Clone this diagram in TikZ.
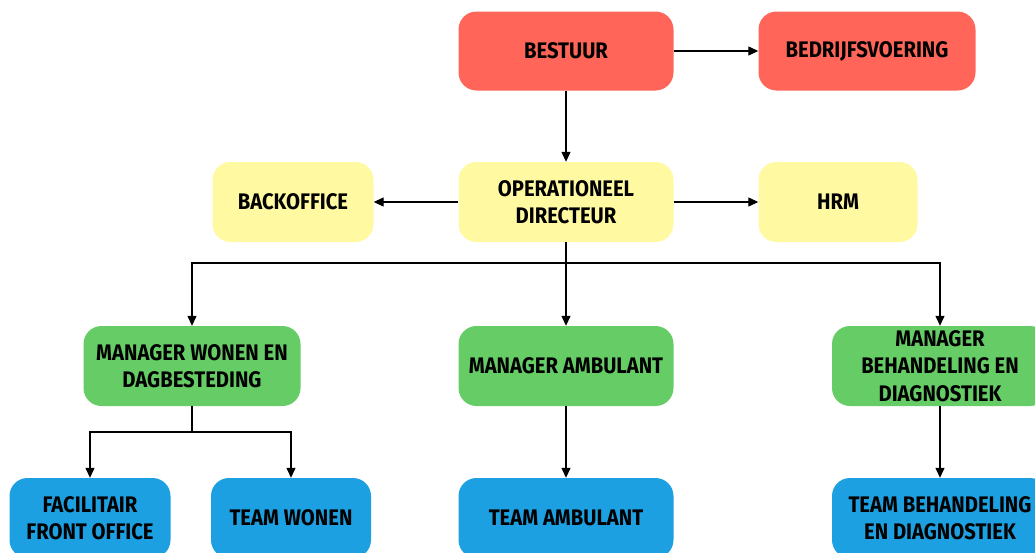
\documentclass[tikz,border=0pt]{standalone}
\usepackage{fontspec}
\setmainfont{Fira Sans}[FakeStretch=0.9]
\usetikzlibrary{arrows.meta}
\definecolor{cred}{RGB}{255,102,89}
\definecolor{cyel}{RGB}{255,250,162}
\definecolor{cgrn}{RGB}{102,204,102}
\definecolor{cblu}{RGB}{29,160,226}
\tikzset{
  box/.style={rounded corners=18pt, draw=none, align=center, inner sep=0pt,
    font=\fontsize{22.5}{27.5}\selectfont\bfseries, text=black},
  redbox/.style={box, fill=cred},
  yelbox/.style={box, fill=cyel},
  grnbox/.style={box, fill=cgrn},
  blubox/.style={box, fill=cblu},
  conn/.style={line width=1.2pt, -{Triangle[length=10pt,width=9pt]}},
  plain/.style={line width=1.2pt}
}
\begin{document}
\begin{tikzpicture}[x=1pt,y=-1pt]
\useasboundingbox (0,0) rectangle (1035,552);
\clip (0,0) rectangle (1035,552);
\fill[white] (0,0) rectangle (1035,552);
\node[redbox, minimum width=215pt, minimum height=79pt] (bestuur) at (566,51) {BESTUUR};
\node[redbox, minimum width=217pt, minimum height=79pt] (bedrijf) at (867,51) {BEDRIJFSVOERING};
\node[yelbox, minimum width=215pt, minimum height=80pt] (od) at (566,202) {OPERATIONEEL\\DIRECTEUR};
\node[yelbox, minimum width=161pt, minimum height=80pt] (back) at (293,202) {BACKOFFICE};
\node[yelbox, minimum width=159pt, minimum height=80pt] (hrm) at (838,202) {HRM};
\node[grnbox, minimum width=217pt, minimum height=80pt] (mw) at (192,366) {MANAGER WONEN EN\\DAGBESTEDING};
\node[grnbox, minimum width=215pt, minimum height=80pt] (ma) at (566,366) {MANAGER AMBULANT};
\node[grnbox, minimum width=216pt, minimum height=80pt] (mb) at (940,366) {MANAGER\\BEHANDELING EN\\DIAGNOSTIEK};
\node[blubox, minimum width=161pt, minimum height=80pt] (ff) at (90,518) {FACILITAIR\\FRONT OFFICE};
\node[blubox, minimum width=160pt, minimum height=80pt] (tw) at (291,518) {TEAM WONEN};
\node[blubox, minimum width=215pt, minimum height=80pt] (ta) at (566,518) {TEAM AMBULANT};
\node[blubox, minimum width=216pt, minimum height=80pt] (tb) at (940,518) {TEAM BEHANDELING\\EN DIAGNOSTIEK};
\coordinate (j1) at (566,263);
\coordinate (j2) at (192,432);
\draw[conn] (bestuur.east) -- (bedrijf.west);
\draw[conn] (bestuur.south) -- (od.north);
\draw[conn] (od.west) -- (back.east);
\draw[conn] (od.east) -- (hrm.west);
\draw[plain] (od.south) -- (j1);
\draw[conn] (j1) -| (mw.north);
\draw[conn] (j1) -| (mb.north);
\draw[conn] (j1) -- (ma.north);
\draw[plain] (mw.south) -- (j2);
\draw[conn] (j2) -| (ff.north);
\draw[conn] (j2) -| (tw.north);
\draw[conn] (ma.south) -- (ta.north);
\draw[conn] (mb.south) -- (tb.north);
\end{tikzpicture}
\end{document}
